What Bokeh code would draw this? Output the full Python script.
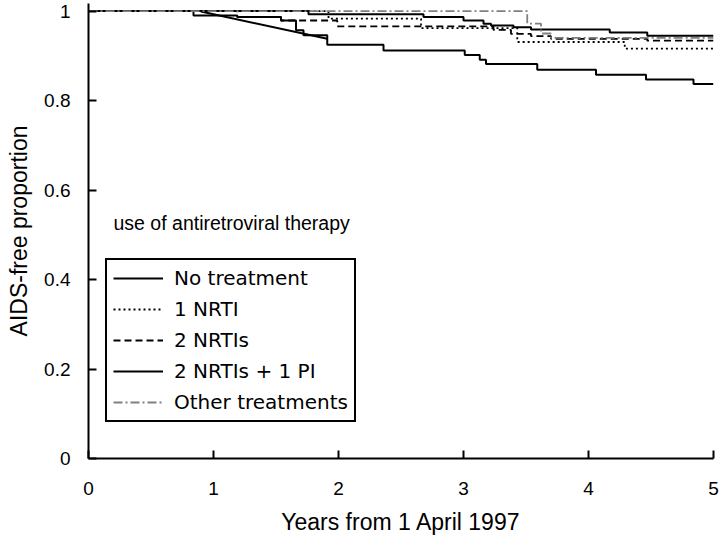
from bokeh.plotting import figure
from bokeh.models import Legend, LegendItem, Label, FixedTicker, CustomJSTickFormatter, Range1d
from bokeh.embed import file_html
from bokeh.resources import INLINE

# Kaplan-Meier style AIDS-free curves (event times in years, survival after each time)
t_none = [0, 1.76, 2.68, 3.00, 3.16, 3.22, 3.40, 3.54, 4.17, 4.47, 5.0]
s_none = [1.0, 0.993, 0.987, 0.979, 0.972, 0.968, 0.964, 0.959, 0.952, 0.945, 0.945]

t_1nrti = [0, 1.92, 2.66, 3.43, 4.29, 5.0]
s_1nrti = [1.0, 0.983, 0.962, 0.931, 0.916, 0.916]

t_2nrti = [0, 1.19, 1.54, 1.99, 3.24, 3.38, 3.54, 3.70, 4.47, 5.0]
s_2nrti = [1.0, 0.987, 0.979, 0.966, 0.958, 0.949, 0.944, 0.938, 0.934, 0.934]

t_pi = [0, 0.84, 1.19, 1.54, 1.66, 1.72, 1.91, 2.36, 3.01, 3.13, 3.18, 3.59, 4.06, 4.46, 4.84, 5.0]
s_pi = [1.0, 0.990, 0.987, 0.979, 0.957, 0.946, 0.925, 0.912, 0.902, 0.891, 0.882, 0.869, 0.858, 0.847, 0.837, 0.837]

t_diag = [0.90, 1.91]
s_diag = [0.999, 0.938]

t_other = [0, 3.51, 3.62, 3.70, 5.0]
s_other = [1.0, 0.972, 0.950, 0.940, 0.940]

labels = ["No treatment", "1 NRTI", "2 NRTIs", "2 NRTIs + 1 PI", "Other treatments"]
x_ticks = [0, 1, 2, 3, 4, 5]
y_ticks = [0, 0.2, 0.4, 0.6, 0.8, 1]

p = figure(width=722, height=543, output_backend="svg", toolbar_location=None,
           x_range=Range1d(0, 5), y_range=Range1d(0, 1.017),
           min_border_left=88, min_border_right=9, min_border_top=3, min_border_bottom=85)
p.outline_line_color = None
p.xgrid.visible = False
p.ygrid.visible = False

r_none = p.step(t_none, s_none, mode="after", line_color="black", line_width=2)
r_1 = p.step(t_1nrti, s_1nrti, mode="after", line_color="black", line_width=1.8, line_dash="2 3")
r_2 = p.step(t_2nrti, s_2nrti, mode="after", line_color="black", line_width=1.8, line_dash="7 4")
r_pi = p.step(t_pi, s_pi, mode="after", line_color="black", line_width=2)
p.line(t_diag, s_diag, line_color="black", line_width=2)
r_o = p.step(t_other, s_other, mode="after", line_color="#808080", line_width=1.8, line_dash="9 3 2 3")

for ax in (p.xaxis[0], p.yaxis[0]):
    ax.axis_line_width = 2
    ax.axis_line_color = "black"
    ax.major_tick_in = 8
    ax.major_tick_out = 0
    ax.major_tick_line_width = 2
    ax.major_tick_line_color = "black"
    ax.minor_tick_line_color = None
    ax.major_label_text_font = "Liberation Sans"
    ax.major_label_text_font_size = "19px"
    ax.major_label_text_color = "black"
    ax.axis_label_text_font = "Liberation Sans"
    ax.axis_label_text_font_size = "23px"
    ax.axis_label_text_font_style = "normal"
    ax.axis_label_text_color = "black"

p.xaxis.ticker = FixedTicker(ticks=x_ticks)
p.yaxis.ticker = FixedTicker(ticks=y_ticks)
p.yaxis.formatter = CustomJSTickFormatter(code="return String(Math.round(tick*10)/10);")
p.xaxis.axis_label = "Years from 1 April 1997"
p.yaxis.axis_label = "AIDS-free proportion"
p.xaxis.major_label_standoff = 23
p.xaxis.axis_label_standoff = 11
p.yaxis.major_label_standoff = 18
p.yaxis.axis_label_standoff = 9

p.add_layout(Label(x=0.2, y=0.527, text="use of antiretroviral therapy",
                   text_font="Liberation Sans", text_font_size="19.5px",
                   text_baseline="middle", text_color="black"))

items = [LegendItem(label=l, renderers=[r]) for l, r in zip(labels, [r_none, r_1, r_2, r_pi, r_o])]
legend = Legend(items=items, location=(17, 36), border_line_color="black", border_line_width=2,
                border_line_alpha=1.0,
                background_fill_color="white", background_fill_alpha=1.0,
                label_text_font="DejaVu Sans", label_text_font_size="20px", label_text_color="black",
                glyph_width=50, glyph_height=20, label_height=20, spacing=7,
                padding=6, margin=0, label_standoff=11)
p.add_layout(legend)

open("out.html", "w").write(file_html(p, INLINE))
